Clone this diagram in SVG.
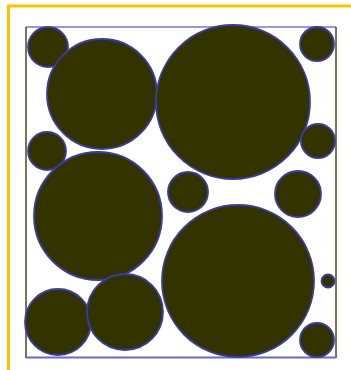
<svg xmlns="http://www.w3.org/2000/svg" width="351" height="370" viewBox="0 0 351 370">
<style>
.c{fill:#333300;stroke:#3a3aaa;stroke-width:1.8}
.frame{stroke:#ffc000;stroke-width:3;fill:none}
</style>
<rect x="0" y="0" width="351" height="370" fill="#ffffff"/>
<path class="frame" d="M8.5,370 V6 H351"/>
<g id="box">
<rect x="26" y="27" width="310" height="331" fill="#ffffff"/>
<line x1="26" y1="27" x2="336" y2="27" stroke="#9a9ad0" stroke-width="2"/>
<line x1="26" y1="27" x2="26" y2="358" stroke="#4a4a20" stroke-width="1.5"/>
<line x1="336" y1="27" x2="336" y2="358" stroke="#4a4a20" stroke-width="1.5"/>
<line x1="26" y1="357.5" x2="336" y2="357.5" stroke="#6a6ac8" stroke-width="2"/>
</g>
<g id="circles">
<circle class="c" cx="48" cy="47" r="20"/>
<circle class="c" cx="102" cy="94" r="55"/>
<circle class="c" cx="233" cy="102" r="77"/>
<circle class="c" cx="317" cy="44" r="17"/>
<circle class="c" cx="47" cy="151" r="19"/>
<circle class="c" cx="318" cy="141" r="17"/>
<circle class="c" cx="98" cy="216" r="64"/>
<circle class="c" cx="188" cy="192" r="20"/>
<circle class="c" cx="298" cy="194" r="23"/>
<circle class="c" cx="238" cy="281" r="76"/>
<circle class="c" cx="328" cy="281" r="6.5"/>
<circle class="c" cx="317" cy="340" r="17"/>
<circle class="c" cx="58" cy="322" r="33"/>
<circle class="c" cx="125" cy="312" r="38"/>
</g>
</svg>
